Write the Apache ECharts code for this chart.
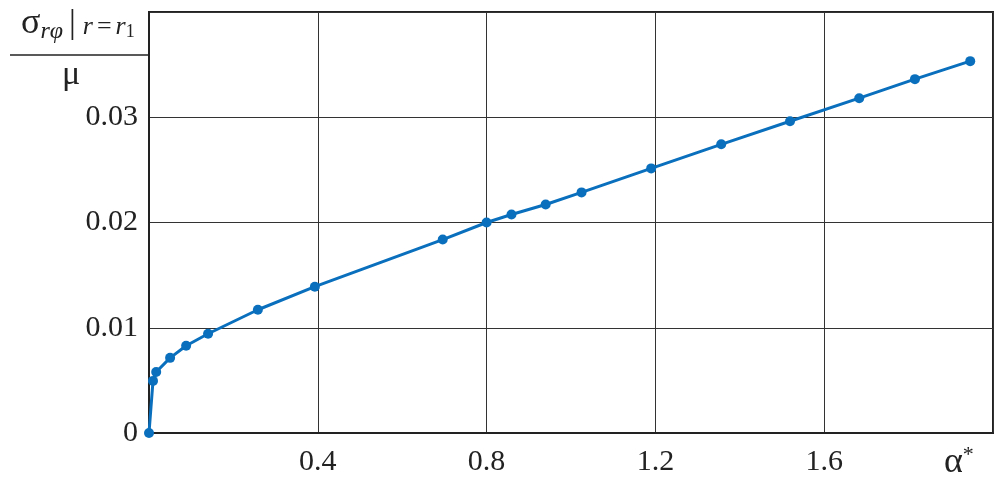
<!DOCTYPE html>
<html>
<head>
<meta charset="utf-8">
<script src="https://cdn.jsdelivr.net/npm/echarts@6/dist/echarts.min.js"></script>
<style>html,body{margin:0;padding:0;background:#fff}#c{width:1008px;height:484px}</style>
</head>
<body>
<div id="c"></div>
<script>
const xValues = [0, 0.0095, 0.017, 0.05, 0.088, 0.14, 0.258, 0.393, 0.696, 0.800, 0.859, 0.940, 1.025, 1.190, 1.356, 1.519, 1.683, 1.815, 1.946];
const yValues = [0, 0.00495, 0.0058, 0.00714, 0.00829, 0.00943, 0.01171, 0.0139, 0.01838, 0.0200, 0.02076, 0.02171, 0.02286, 0.02514, 0.02743, 0.02962, 0.03181, 0.03362, 0.03533];
const xTickLabels = {0.4: '0.4', 0.8: '0.8', 1.2: '1.2', 1.6: '1.6'};
const yTickLabels = {0: '0', 0.01: '0.01', 0.02: '0.02', 0.03: '0.03'};
const xName = 'α*';

const font = '"Liberation Serif", "DejaVu Serif", serif';
const chart = echarts.init(document.getElementById('c'));
const lookup = (m, v) => { for (const k in m) { if (Math.abs(+k - v) < 1e-9) return m[k]; } return ''; };
chart.setOption({
  animation: false,
  grid: {left: 149, right: 15, top: 12, bottom: 51, show: true, borderColor: '#222', borderWidth: 2, backgroundColor: 'transparent'},
  xAxis: {
    type: 'value', min: 0, max: 2.0, interval: 0.4,
    axisLine: {show: true, lineStyle: {color: '#222', width: 2}},
    axisTick: {show: false},
    splitLine: {show: true, lineStyle: {color: '#333', width: 1}},
    axisLabel: {formatter: v => lookup(xTickLabels, v), fontFamily: font, fontSize: 30, color: '#222', margin: 14}
  },
  yAxis: {
    type: 'value', min: 0, max: 0.04, interval: 0.01,
    axisLine: {show: true, lineStyle: {color: '#222', width: 2}},
    axisTick: {show: false},
    splitLine: {show: true, lineStyle: {color: '#333', width: 1}},
    axisLabel: {formatter: v => lookup(yTickLabels, v), fontFamily: font, fontSize: 30, color: '#222', margin: 11}
  },
  series: [{
    type: 'line',
    data: xValues.map((x, i) => [x, yValues[i]]),
    lineStyle: {color: '#0a70bd', width: 3},
    itemStyle: {color: '#0a70bd'},
    symbol: 'circle', symbolSize: 10, showSymbol: true
  }],
  graphic: [
    {type: 'text', left: 944, top: 444, style: {
      text: '{a|α}{s|*}', rich: {
        a: {fontFamily: font, fontSize: 36, fill: '#222'},
        s: {fontFamily: font, fontSize: 22, fill: '#222', verticalAlign: 'top', padding: [0, 0, 16, 0]}
      }}},
    {type: 'line', shape: {x1: 10, y1: 55, x2: 149, y2: 55}, style: {stroke: '#222', lineWidth: 1.5}},
    {type: 'text', left: 21, top: 6, style: {
      text: '{g|σ}{i|rφ}{b||}{t|r}{e|=}{t|r}{n|1}', rich: {
        g: {fontFamily: font, fontSize: 36, fill: '#222'},
        i: {fontFamily: font, fontSize: 24, fontStyle: 'italic', fill: '#222', padding: [16, 0, 0, 0]},
        b: {fontFamily: font, fontSize: 34, fill: '#222', padding: [0, 7, 0, 6]},
        t: {fontFamily: font, fontSize: 26, fontStyle: 'italic', fill: '#222', padding: [7, 0, 0, 0]},
        e: {fontFamily: font, fontSize: 26, fill: '#222', padding: [7, 4, 0, 4]},
        n: {fontFamily: font, fontSize: 18, fill: '#222', padding: [16, 0, 0, 0]}
      }}},
    {type: 'text', left: 62, top: 58, style: {text: 'μ', fontFamily: font, fontSize: 34, fill: '#222'}}
  ]
});
</script>
</body>
</html>
